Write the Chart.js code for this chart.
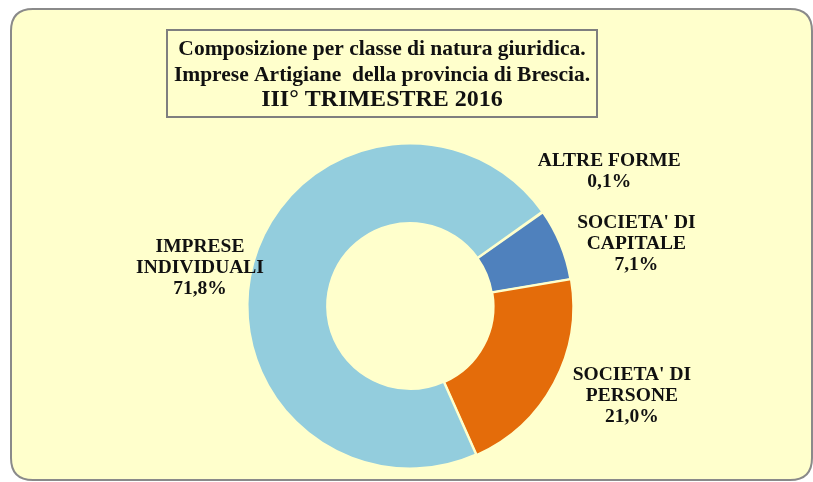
<!DOCTYPE html>
<html>
<head>
<meta charset="utf-8">
<script src="https://cdn.jsdelivr.net/npm/chart.js@4/dist/chart.umd.min.js"></script>
<style>
  html, body { margin: 0; padding: 0; background: #ffffff; }
  #wrap { position: relative; width: 813px; height: 482px; }
</style>
</head>
<body>
<div id="wrap"><canvas id="myChart" width="813" height="482"></canvas></div>
<script>
const categories = ['ALTRE FORME', "SOCIETA' DI CAPITALE", "SOCIETA' DI PERSONE", 'IMPRESE INDIVIDUALI'];
const labelLines = [
    ['ALTRE FORME'],
    ["SOCIETA' DI", 'CAPITALE'],
    ["SOCIETA' DI", 'PERSONE'],
    ['IMPRESE', 'INDIVIDUALI']
];
const shares = [0.1, 7.1, 21.0, 71.8];
const titleLines = [
    'Composizione per classe di natura giuridica.',
    'Imprese Artigiane  della provincia di Brescia.',
    'III° TRIMESTRE 2016'
];

const colors = {
    bg: '#ffffcc',
    frame: '#8a8a8a',
    slices: ['#9b8fb3', '#4f81bd', '#e46c0a', '#93cddd'],
    text: '#111111'
};

const serif = '"Liberation Serif", "Times New Roman", serif';

// nudges so the labels sit where Excel put them
const labelGap = 78;
const labelNudge = [[3, 5], [4, 29], [10, -24], [22, 25]];

function roundRect(ctx, x, y, w, h, r) {
    ctx.beginPath();
    ctx.moveTo(x + r, y);
    ctx.lineTo(x + w - r, y);
    ctx.quadraticCurveTo(x + w, y, x + w, y + r);
    ctx.lineTo(x + w, y + h - r);
    ctx.quadraticCurveTo(x + w, y + h, x + w - r, y + h);
    ctx.lineTo(x + r, y + h);
    ctx.quadraticCurveTo(x, y + h, x, y + h - r);
    ctx.lineTo(x, y + r);
    ctx.quadraticCurveTo(x, y, x + r, y);
    ctx.closePath();
}

const decor = {
    id: 'decor',
    beforeDraw(chart) {
        const ctx = chart.ctx;
        ctx.save();
        ctx.fillStyle = '#ffffff';
        ctx.fillRect(0, 0, chart.width, chart.height);
        roundRect(ctx, 11, 9, 801, 471, 22);
        ctx.fillStyle = colors.bg;
        ctx.fill();
        ctx.lineWidth = 2;
        ctx.strokeStyle = colors.frame;
        ctx.stroke();

        // title box
        ctx.strokeStyle = '#7f7f7f';
        ctx.lineWidth = 2;
        ctx.strokeRect(167, 30, 430, 87);
        ctx.fillStyle = colors.text;
        ctx.textAlign = 'center';
        ctx.textBaseline = 'middle';
        ctx.font = 'bold 21.5px ' + serif;
        ctx.fillText(titleLines[0], 382, 49);
        ctx.fillText(titleLines[1], 382, 75.5);
        ctx.font = 'bold 24px ' + serif;
        ctx.fillText(titleLines[2], 382, 100);
        ctx.restore();
    },
    afterDraw(chart) {
        const ctx = chart.ctx;
        const meta = chart.getDatasetMeta(0);
        ctx.save();
        ctx.fillStyle = colors.text;
        ctx.textAlign = 'center';
        ctx.textBaseline = 'middle';
        ctx.font = 'bold 19.5px ' + serif;
        meta.data.forEach((arc, i) => {
            const p = arc.getProps(['x', 'y', 'startAngle', 'endAngle', 'outerRadius'], true);
            const mid = (p.startAngle + p.endAngle) / 2;
            const r = p.outerRadius + labelGap;
            const cx = p.x + Math.cos(mid) * r + labelNudge[i][0];
            const cy = p.y + Math.sin(mid) * r + labelNudge[i][1];
            const lines = labelLines[i].concat([shares[i].toFixed(1).replace('.', ',') + '%']);
            const lh = 21;
            const top = cy - (lines.length - 1) * lh / 2;
            lines.forEach((t, k) => ctx.fillText(t, cx, top + k * lh));
        });
        ctx.restore();
    }
};

const data = {
    labels: categories,
    datasets: [{
        data: shares,
        backgroundColor: colors.slices,
        borderColor: colors.bg,
        borderWidth: 2,
        offset: [0, 0, 3, 0]
    }]
};

const config = {
    type: 'doughnut',
    data: data,
    options: {
        responsive: false,
        animation: false,
        rotation: 54.5,
        cutout: '51%',
        layout: {
            padding: { left: 245, right: 238, top: 141, bottom: 11 }
        },
        plugins: {
            legend: { display: false },
            tooltip: { enabled: false }
        }
    },
    plugins: [decor]
};

new Chart(document.getElementById('myChart'), config);
</script>
</body>
</html>
